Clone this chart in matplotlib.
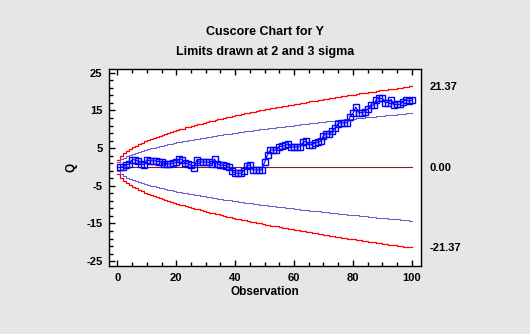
import matplotlib.pyplot as plt
from matplotlib.ticker import MultipleLocator
import numpy as np

plt.rcParams['font.family'] = ['Liberation Sans', 'DejaVu Sans']
plt.rcParams['font.weight'] = 'bold'
plt.rcParams['axes.unicode_minus'] = False

# observation number
obs = np.arange(1, 101)

# cuscore statistic Q
q = [0.0, 0.0, 0.6, 0.7, 1.9, 1.9, 1.6, 0.8, 0.6, 1.9,
     1.6, 1.6, 1.6, 1.4, 1.2, 0.8, 0.8, 0.8, 1.0, 1.2,
     2.1, 1.9, 1.0, 0.8, 0.5, -0.4, 1.9, 1.3, 1.3, 1.3,
     1.3, 0.8, 2.1, 0.8, 0.5, 0.5, 0.3, -0.1, -1.0, -1.7,
     -1.7, -1.7, -1.0, 0.3, 0.5, -0.8, -0.8, -0.8, -0.8, 1.2,
     3.3, 4.5, 4.5, 4.5, 5.4, 5.5, 5.7, 6.1, 5.3, 5.3,
     5.3, 5.3, 6.5, 6.8, 5.9, 5.9, 6.3, 6.6, 6.8, 8.3,
     8.8, 8.8, 9.5, 10.4, 11.5, 11.7, 11.7, 11.7, 13.3, 14.2,
     15.9, 14.4, 14.4, 14.6, 15.3, 16.4, 16.4, 17.9, 18.2, 18.2,
     17.1, 17.1, 17.9, 16.4, 16.6, 16.6, 17.3, 17.8, 17.5, 17.7]

# upper 3-sigma limit at each observation (lower is the mirror image)
ucl3 = [1.8, 3.0, 3.7, 4.3, 4.8, 5.2, 5.6, 6.0, 6.4, 6.8,
        7.1, 7.4, 7.7, 8.0, 8.3, 8.5, 8.8, 9.1, 9.3, 9.6,
        9.8, 10.0, 10.2, 10.5, 10.7, 10.9, 11.1, 11.3, 11.5, 11.7,
        11.9, 12.1, 12.3, 12.5, 12.6, 12.8, 13.0, 13.2, 13.3, 13.5,
        13.7, 13.8, 14.0, 14.2, 14.3, 14.5, 14.6, 14.8, 15.0, 15.1,
        15.3, 15.4, 15.6, 15.7, 15.8, 16.0, 16.1, 16.3, 16.4, 16.5,
        16.7, 16.8, 17.0, 17.1, 17.2, 17.4, 17.5, 17.6, 17.7, 17.9,
        18.0, 18.1, 18.3, 18.4, 18.5, 18.6, 18.8, 18.9, 19.0, 19.1,
        19.2, 19.3, 19.5, 19.6, 19.7, 19.8, 19.9, 20.0, 20.2, 20.3,
        20.4, 20.5, 20.6, 20.7, 20.8, 20.9, 21.0, 21.2, 21.3, 21.37]

limit_labels = ['21.37', '0.00', '-21.37']
limit_values = [21.37, 0.0, -21.37]

ucl3 = np.array(ucl3)
ucl2 = ucl3 * 2 / 3
edges = np.arange(0, 101)

fig = plt.figure(figsize=(5.30, 3.34), dpi=100, facecolor='#e6e6e6')
ax = fig.add_axes([0.2065, 0.2036, 0.5877, 0.5898])
ax.set_facecolor('white')


def stepline(vals, color, lw):
    ax.step(edges, np.concatenate([[vals[0]], vals]), where='pre',
            color=color, lw=lw)


stepline(ucl3, '#ff0000', 0.9)
stepline(-ucl3, '#ff0000', 0.9)
stepline(ucl2, '#6a5acd', 0.75)
stepline(-ucl2, '#6a5acd', 0.75)
ax.plot([0, 100], [0, 0], color='#8b1a1a', lw=0.8)

ax.plot(obs, q, color='#0000ff', lw=0.8, marker='s', ms=4.2,
        mfc='none', mec='#0000ff', mew=1.0)

ax.set_xlim(-2.7, 103.1)
ax.set_ylim(-26.3, 26.0)
ax.xaxis.set_major_locator(MultipleLocator(20))
ax.xaxis.set_minor_locator(MultipleLocator(5))
ax.yaxis.set_major_locator(MultipleLocator(10, offset=5))
ax.yaxis.set_minor_locator(MultipleLocator(2, offset=1))
ax.tick_params(which='both', direction='in', top=True, right=True,
               labelsize=8, width=1, pad=5)
ax.tick_params(which='major', length=4.5)
ax.tick_params(which='minor', length=3)
for s in ax.spines.values():
    s.set_linewidth(1.0)

ax2 = ax.twinx()
ax2.set_ylim(ax.get_ylim())
ax2.set_yticks(limit_values)
ax2.set_yticklabels(limit_labels)
ax2.tick_params(length=0, labelsize=8, pad=6)
for s in ax2.spines.values():
    s.set_visible(False)

ax.set_xlabel('Observation', fontsize=8.5, fontweight='bold', labelpad=2)
ax.set_ylabel('Q', fontsize=8.5, fontweight='bold', labelpad=6)

fig.text(0.5, 0.905, 'Cuscore Chart for Y', ha='center', va='center',
         fontsize=9, fontweight='bold')
fig.text(0.5, 0.845, 'Limits drawn at 2 and 3 sigma', ha='center',
         va='center', fontsize=9, fontweight='bold')

fig.savefig('out.png', dpi=100, facecolor=fig.get_facecolor())
